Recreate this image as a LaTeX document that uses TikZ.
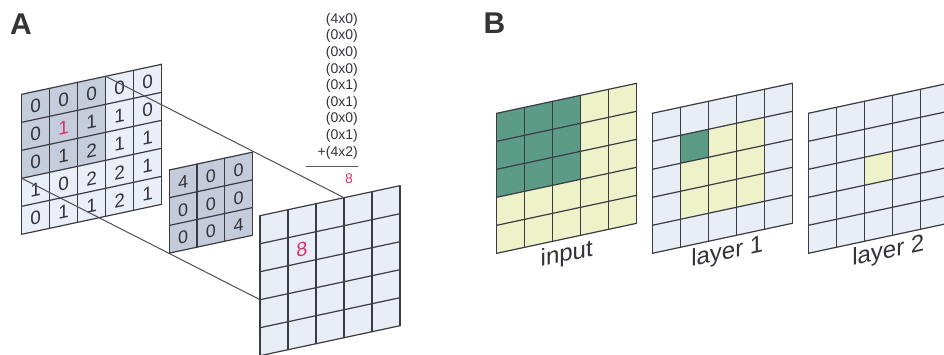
\documentclass[tikz,border=0pt]{standalone}
\usepackage{fontspec}
\setmainfont{Liberation Sans}
\definecolor{gl}{HTML}{3B3B44}
\definecolor{txt}{HTML}{333338}
\definecolor{redn}{HTML}{D8336A}
\definecolor{cellA}{HTML}{EAEEF7}
\definecolor{darkA}{HTML}{C5CDDC}
\definecolor{kern}{HTML}{C4CCDB}
\definecolor{outc}{HTML}{E9EDF6}
\definecolor{bl}{HTML}{E9EDF6}
\definecolor{gr}{HTML}{5C9C87}
\definecolor{yl}{HTML}{EEF2C9}
\begin{document}
\begin{tikzpicture}[x=1pt,y=-1pt,
  gridline/.style={draw=gl, line width=1.2pt, line cap=round},
  conn/.style={draw=gl!90, line width=1pt},
  digit/.style={inner sep=0pt, text=txt, font=\fontsize{19}{19}\selectfont, transform shape},
  kdigit/.style={inner sep=0pt, text=txt, font=\fontsize{18}{18}\selectfont, transform shape},
  sumline/.style={inner sep=0pt, anchor=base east, text=txt, font=\fontsize{14}{14}\selectfont},
  panel/.style={inner sep=0pt, anchor=base west, text=txt, font=\fontsize{30}{30}\selectfont\bfseries},
  lab/.style={inner sep=0pt, anchor=base, text=txt, font=\fontsize{24}{24}\selectfont, transform shape}]
\useasboundingbox (0,0) rectangle (944,354);
\clip (0,0) rectangle (944,354);
\fill[white] (0,0) rectangle (944,354);

% ---------- Panel A ----------
\node[panel] (labA) at (10,34) {A};

% input grid
\begin{scope}[shift={(21.7,94.3)}, yslant=0.2143]
  \fill[cellA] (0,0) rectangle (140,140);
  \fill[darkA] (0,0) rectangle (84,84);
  \foreach \i in {0,...,5} {
    \draw[gridline] (\i*28,0) -- (\i*28,140);
    \draw[gridline] (0,\i*28) -- (140,\i*28);
  }
  \foreach \rowvals [count=\r from 0] in {{0,0,0,0,0},{0,1,1,1,0},{0,1,2,1,1},{1,0,2,2,1},{0,1,1,2,1}} {
    \foreach \v [count=\c from 0] in \rowvals {
      \ifnum\numexpr\r*10+\c\relax=11 \def\tc{redn}\else\def\tc{txt}\fi
      \node[digit, text=\tc] (in-\r-\c) at (\c*28+14,\r*28+15) {\v};
    }
  }
  \coordinate (inTR) at (84,0);
  \coordinate (inBL) at (0,84);
\end{scope}

% output grid
\begin{scope}[shift={(260,215.7)}, yslant=0.2143]
  \fill[outc] (0,0) rectangle (140,140);
  \foreach \i in {0,...,5} {
    \draw[gridline] (\i*28,0) -- (\i*28,140);
    \draw[gridline] (0,\i*28) -- (140,\i*28);
  }
  \node[digit, text=redn, font=\fontsize{20}{20}\selectfont] (out8) at (42,43) {8};
  \coordinate (outTR) at (84,0);
  \coordinate (outBL) at (0,84);
\end{scope}

\draw[conn] (inTR) -- (outTR);
\draw[conn] (inBL) -- (outBL);

% kernel
\begin{scope}[shift={(169.3,170)}, yslant=0.2143]
  \fill[kern] (0,0) rectangle (83.1,83.1);
  \foreach \i in {0,...,3} {
    \draw[gridline] (\i*27.7,0) -- (\i*27.7,83.1);
    \draw[gridline] (0,\i*27.7) -- (83.1,\i*27.7);
  }
  \foreach \rowvals [count=\r from 0] in {{4,0,0},{0,0,0},{0,0,4}} {
    \foreach \v [count=\c from 0] in \rowvals {
      \node[kdigit] (k-\r-\c) at (\c*27.7+13.85,\r*27.7+15) {\v};
    }
  }
\end{scope}

% sum column
\foreach \t [count=\k from 0] in {(4x0),(0x0),(0x0),(0x0),(0x1),(0x1),(0x0),(0x1),+(4x2)} {
  \node[sumline] (s\k) at (358,23.3+\k*16.6) {\t};
}
\draw[draw=gl!85, line width=1pt] (305.7,166.7) coordinate (ruleL) -- (358,166.7) coordinate (ruleR);
\node[inner sep=0pt, anchor=base, text=redn, font=\fontsize{14}{14}\selectfont] (res8) at (349,183) {8};

% ---------- Panel B ----------
\node[panel] (labB) at (483.5,33.3) {B};

% input
\begin{scope}[shift={(496.7,113.3)}, yslant=0.2143]
  \fill[yl] (0,0) rectangle (140,140);
  \fill[gr] (0,0) rectangle (84,84);
  \foreach \i in {0,...,5} {
    \draw[gridline] (\i*28,0) -- (\i*28,140);
    \draw[gridline] (0,\i*28) -- (140,\i*28);
  }
  \node[lab] (labIn) at (70,163) {input};
\end{scope}

% layer 1
\begin{scope}[shift={(652.3,113.3)}, yslant=0.2143]
  \fill[bl] (0,0) rectangle (140,140);
  \fill[yl] (28,28) rectangle (112,112);
  \fill[gr] (28,28) rectangle (56,56);
  \foreach \i in {0,...,5} {
    \draw[gridline] (\i*28,0) -- (\i*28,140);
    \draw[gridline] (0,\i*28) -- (140,\i*28);
  }
  \node[lab] (labL1) at (75,162) {layer 1};
\end{scope}

% layer 2
\begin{scope}[shift={(808.3,113.3)}, yslant=0.2143]
  \fill[bl] (0,0) rectangle (140,140);
  \fill[yl] (56,56) rectangle (84,84);
  \foreach \i in {0,...,5} {
    \draw[gridline] (\i*28,0) -- (\i*28,140);
    \draw[gridline] (0,\i*28) -- (140,\i*28);
  }
  \node[lab] (labL2) at (80,162) {layer 2};
\end{scope}
\end{tikzpicture}
\end{document}
